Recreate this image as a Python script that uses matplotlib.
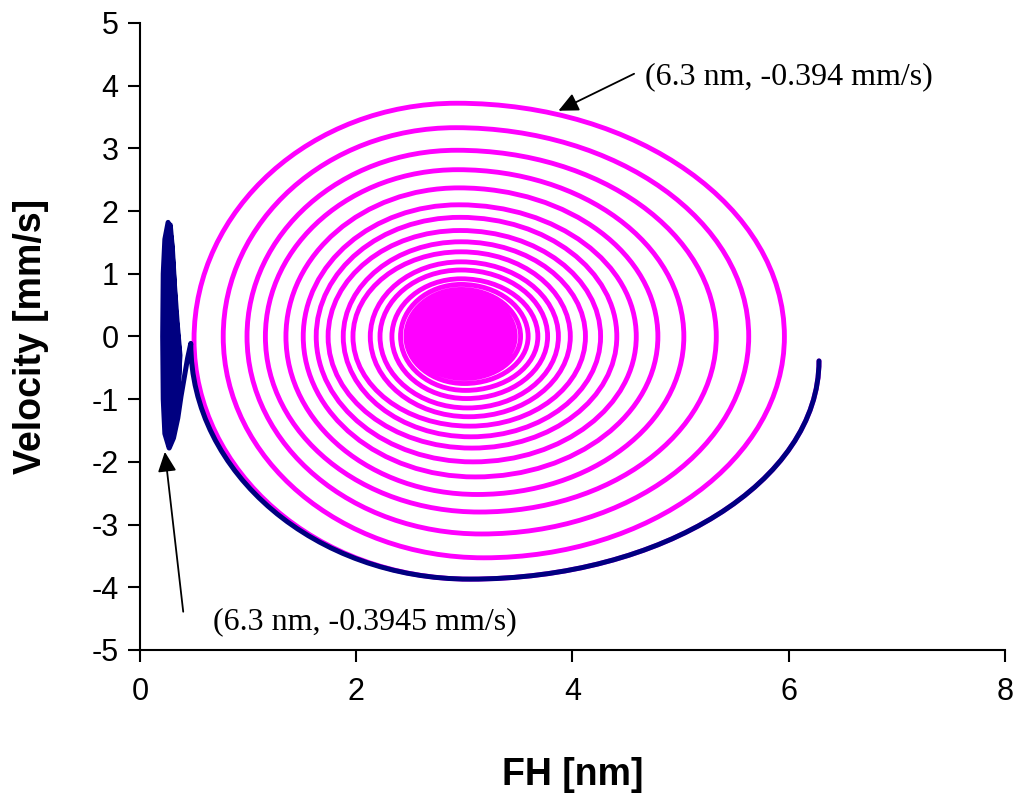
"""Phase portrait of the FH oscillation: velocity against position."""

import matplotlib

matplotlib.use("Agg")

import matplotlib.pyplot as plt
from matplotlib.patches import PathPatch
from matplotlib.path import Path

plt.rcParams["axes.unicode_minus"] = False

# turning points (x in nm, velocity in mm/s)
# start, first bottom and first left turn of the magenta run
start_x = [6.28, 3.05, 0.50]
start_y = [-0.39, -3.87, -0.05]

# one entry per revolution after that: top, right, bottom, left turn
# (the inner ones are packed into the solid core and only estimated)
top_y = [3.72, 3.33, 2.97, 2.66, 2.37, 2.10, 1.90, 1.69, 1.51, 1.35,
         1.19, 1.06, 0.92, 0.83, 0.75, 0.69, 0.65, 0.61, 0.57, 0.53,
         0.50, 0.47, 0.44, 0.41, 0.38, 0.35, 0.32, 0.29, 0.26, 0.24,
         0.22, 0.20, 0.18, 0.16, 0.14, 0.12, 0.10, 0.08, 0.06]
top_x = [2.93, 2.92, 2.93, 2.94, 2.95, 2.95, 2.96, 2.96, 2.97, 2.97,
         2.97, 2.97, 2.97, 2.97, 2.97, 2.97, 2.97, 2.97, 2.97, 2.97,
         2.97, 2.97, 2.97, 2.97, 2.97, 2.97, 2.97, 2.97, 2.97, 2.97,
         2.97, 2.97, 2.97, 2.97, 2.97, 2.97, 2.97, 2.97, 2.97]
right_x = [5.96, 5.63, 5.33, 5.03, 4.79, 4.59, 4.41, 4.26, 4.12, 3.98,
           3.87, 3.77, 3.68, 3.59, 3.52, 3.47, 3.43, 3.39, 3.36, 3.33,
           3.30, 3.27, 3.24, 3.21, 3.19, 3.17, 3.15, 3.13, 3.11, 3.09,
           3.07, 3.06, 3.05, 3.04, 3.03, 3.02, 3.01, 3.00, 2.99]
bottom_y = [-3.53, -3.15, -2.80, -2.52, -2.24, -2.00, -1.78, -1.60, -1.43, -1.28,
            -1.14, -0.99, -0.86, -0.75, -0.67, -0.62, -0.58, -0.54, -0.51, -0.48,
            -0.45, -0.42, -0.39, -0.36, -0.33, -0.30, -0.28, -0.26, -0.24, -0.22,
            -0.20, -0.18, -0.16, -0.14, -0.12, -0.10, -0.08, -0.06, -0.05]
bottom_x = [3.18, 3.16, 3.14, 3.12, 3.10, 3.08, 3.07, 3.06, 3.05, 3.04,
            3.03, 3.02, 3.01, 3.00, 3.00, 2.99, 2.99, 2.98, 2.98, 2.98,
            2.97, 2.97, 2.97, 2.97, 2.97, 2.97, 2.97, 2.97, 2.97, 2.97,
            2.97, 2.97, 2.97, 2.97, 2.97, 2.97, 2.97, 2.97, 2.97]
left_x = [0.77, 0.99, 1.16, 1.35, 1.51, 1.63, 1.74, 1.88, 1.97, 2.13,
          2.22, 2.33, 2.41, 2.46, 2.50, 2.54, 2.57, 2.60, 2.63, 2.66,
          2.69, 2.72, 2.74, 2.76, 2.78, 2.80, 2.82, 2.84, 2.86, 2.87,
          2.88, 2.89, 2.90, 2.91, 2.92, 2.93, 2.94, 2.95, 2.96]

# navy run: same start, breaks away at the first left turn
navy_turn_x = [6.28, 3.05, 0.47]
navy_turn_y = [-0.39, -3.87, -0.11]
# then it rattles up and down in a narrow band near x = 0.3 nm
navy_tail_x = [0.44, 0.41, 0.38, 0.35, 0.31, 0.27,
               0.23, 0.215, 0.21, 0.215, 0.23, 0.26,
               0.29, 0.31, 0.33, 0.36, 0.36, 0.34, 0.31, 0.27,
               0.25, 0.235, 0.235, 0.24, 0.25, 0.28,
               0.30, 0.32, 0.345, 0.37, 0.35, 0.30,
               0.27, 0.26, 0.265, 0.27, 0.27,
               0.29, 0.31, 0.335, 0.33, 0.29,
               0.285, 0.29, 0.295, 0.29,
               0.31, 0.35, 0.32]
navy_tail_y = [-0.35, -0.65, -0.95, -1.30, -1.62, -1.78,
               -1.55, -1.00, 0.00, 1.00, 1.55, 1.82,
               1.55, 1.00, 0.40, -0.20, -0.60, -1.10, -1.50, -1.75,
               -1.40, -0.70, 0.20, 1.00, 1.50, 1.78,
               1.40, 0.80, 0.20, -0.30, -0.90, -1.50,
               -1.10, -0.30, 0.50, 1.20, 1.65,
               1.10, 0.40, -0.10, -0.70, -1.45,
               -0.80, 0.00, 0.80, 1.40,
               0.60, -0.40, -1.20]

x_ticks = [0, 2, 4, 6, 8]
y_ticks = [-5, -4, -3, -2, -1, 0, 1, 2, 3, 4, 5]

note_top = "(6.3 nm, -0.394 mm/s)"
note_bottom = "(6.3 nm, -0.3945 mm/s)"

MAGENTA = "#FF00FF"
NAVY = "#000080"
KAPPA = 0.5523  # bezier quarter-ellipse constant


def turning_path(xs, ys, tail_x=(), tail_y=()):
    """Join turning points with quarter-ellipse curves; even points sit on the x-axis."""
    verts = [(xs[0], ys[0])]
    codes = [Path.MOVETO]
    for i in range(len(xs) - 1):
        x0, y0, x1, y1 = xs[i], ys[i], xs[i + 1], ys[i + 1]
        if i % 2 == 0:
            c1 = (x0, y0 + KAPPA * (y1 - y0))
            c2 = (x1 + KAPPA * (x0 - x1), y1)
        else:
            c1 = (x0 + KAPPA * (x1 - x0), y0)
            c2 = (x1, y1 + KAPPA * (y0 - y1))
        verts += [c1, c2, (x1, y1)]
        codes += [Path.CURVE4] * 3
    for x, y in zip(tail_x, tail_y):
        verts.append((x, y))
        codes.append(Path.LINETO)
    return Path(verts, codes)


mag_x = list(start_x)
mag_y = list(start_y)
for k in range(len(top_y)):
    mag_x += [top_x[k], right_x[k], bottom_x[k], left_x[k]]
    mag_y += [top_y[k], 0.0, bottom_y[k], 0.0]

fig = plt.figure(figsize=(10.18, 7.98), dpi=100)
ax = fig.add_axes([0.1375, 0.1855, 0.8497, 0.7857])

ax.add_patch(PathPatch(turning_path(mag_x, mag_y), fill=False, edgecolor=MAGENTA,
                       linewidth=3.5, joinstyle="round", capstyle="round", zorder=2))
ax.add_patch(PathPatch(turning_path(navy_turn_x, navy_turn_y, navy_tail_x, navy_tail_y),
                       fill=False, edgecolor=NAVY, linewidth=3.6,
                       joinstyle="round", capstyle="round", zorder=3))

arrow = dict(arrowstyle="-|>,head_length=0.6,head_width=0.28", color="black",
             lw=1.3, mutation_scale=20, shrinkA=0, shrinkB=0)
ax.annotate("", xy=(3.87, 3.60), xytext=(4.57, 4.19), arrowprops=arrow, zorder=4)
ax.annotate("", xy=(0.23, -1.84), xytext=(0.40, -4.39), arrowprops=arrow, zorder=4)
ax.text(4.67, 4.15, note_top, family="Liberation Serif", fontsize=23, va="center", ha="left")
ax.text(0.675, -4.55, note_bottom, family="Liberation Serif", fontsize=23, va="center", ha="left")

ax.set_xlim(0, 8)
ax.set_ylim(-5, 5)
ax.set_xticks(x_ticks)
ax.set_yticks(y_ticks)
for spine in ("top", "right"):
    ax.spines[spine].set_visible(False)
for spine in ("left", "bottom"):
    ax.spines[spine].set_linewidth(1.5)
ax.tick_params(direction="out", length=8.5, width=1.5, labelsize=22)
ax.tick_params(axis="x", pad=11)
ax.tick_params(axis="y", pad=7)
for lab in ax.get_xticklabels() + ax.get_yticklabels():
    lab.set_family("Liberation Sans")

ax.set_xlabel("FH [nm]", family="Liberation Sans", fontweight="bold", fontsize=27, va="center")
ax.set_ylabel("Velocity [mm/s]", family="Liberation Sans", fontweight="bold", fontsize=27, va="center")
ax.xaxis.set_label_coords(0.5, -0.1994)
ax.yaxis.set_label_coords(-0.126, 0.5)

fig.savefig("out.png", dpi=100)
plt.close(fig)
